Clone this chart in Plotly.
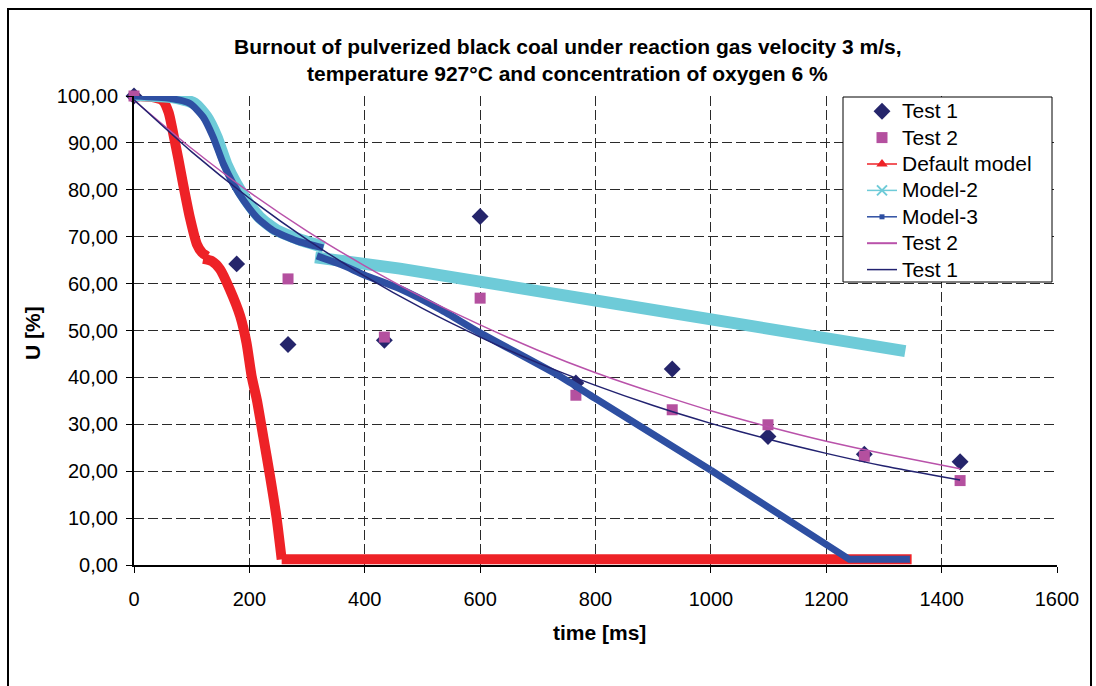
import plotly.graph_objects as go

# ---------------- data ----------------
t_test1 = [0, 178, 267, 434, 600, 766, 933, 1099, 1266, 1432]
u_test1 = [100.0, 64.2, 47.0, 47.9, 74.3, 38.8, 41.8, 27.4, 23.6, 22.0]

t_test2 = [0, 267, 434, 600, 766, 933, 1099, 1266, 1432]
u_test2 = [100.0, 61.0, 48.6, 56.9, 36.2, 33.1, 29.9, 23.2, 18.0]

t_trend = [0, 100, 200, 300, 400, 500, 600, 700, 800, 900, 1000, 1100, 1200, 1300, 1432]
u_trend1 = [99.2, 88.1, 78.2, 69.4, 61.6, 54.7, 48.6, 43.1, 38.3, 34.0, 30.2, 26.8, 23.8, 21.1, 18.1]
u_trend2 = [99.1, 88.8, 79.5, 71.2, 63.8, 57.1, 51.2, 45.8, 41.0, 36.8, 32.9, 29.5, 26.4, 23.7, 20.5]

# Default model (curved pieces + flat tail)
t_def_a = [0, 30, 50, 60, 68, 77, 85, 97, 109, 118, 127]
u_def_a = [100.0, 99.8, 99.0, 96.5, 92.0, 86.5, 81.3, 74.0, 68.4, 66.6, 65.8]
t_def_b = [120, 135, 149, 166, 184, 195, 204, 213, 224, 236, 247, 256]
u_def_b = [65.3, 64.8, 63.1, 58.8, 53.1, 47.4, 40.2, 35.2, 27.4, 18.8, 10.2, 1.2]
t_def_c = [256, 1348]
u_def_c = [1.2, 1.2]

# Model-2 (two pieces)
t_m2_a = [0, 68, 105, 126, 143, 160, 177, 195, 218, 247, 287, 329]
u_m2_a = [100.2, 99.7, 98.4, 95.5, 91.3, 85.5, 81.3, 77.7, 74.1, 71.4, 69.4, 67.8]
t_m2_b = [314, 461, 800, 1241, 1337]
u_m2_b = [65.6, 63.2, 56.4, 47.4, 45.6]

# Model-3 (curved pieces + straight tail)
t_m3_a = [0, 62, 97, 120, 137, 155, 172, 190, 213, 241, 282, 328]
u_m3_a = [100.0, 99.5, 98.4, 95.5, 91.3, 85.5, 81.3, 77.7, 74.1, 71.3, 69.1, 67.6]
t_m3_b = [317, 360, 400, 461, 531, 600, 739, 800, 1000]
u_m3_b = [65.9, 64.0, 61.8, 58.9, 54.5, 49.5, 40.2, 35.5, 20.2]
t_m3_c = [1000, 1240, 1345]
u_m3_c = [20.2, 1.2, 1.2]

x_ticks = [0, 200, 400, 600, 800, 1000, 1200, 1400, 1600]
y_ticks = [0, 10, 20, 30, 40, 50, 60, 70, 80, 90, 100]

legend_names = ["Test 1", "Test 2", "Default model", "Model-2", "Model-3", "Test 2", "Test 1"]

NAVY = "#25256B"
PINK = "#B4509F"
RED = "#EE2227"
CYAN = "#6ECBD8"
BLUE = "#2E4FA2"
PINK_LINE = "#B952AA"
NAVY_LINE = "#222270"
FONT = "Arial, Liberation Sans, sans-serif"

fig = go.Figure()


def add_line(t, u, color, width, spline=True):
    fig.add_trace(go.Scatter(
        x=t, y=u, mode="lines", showlegend=False, hoverinfo="skip",
        line=dict(color=color, width=width,
                  shape="spline" if spline else "linear", smoothing=0.6)))


# markers first (drawn underneath, like the original)
fig.add_trace(go.Scatter(x=t_test1, y=u_test1, mode="markers", showlegend=False,
                         marker=dict(symbol="diamond", size=13, color=NAVY), cliponaxis=False))
fig.add_trace(go.Scatter(x=t_test2, y=u_test2, mode="markers", showlegend=False,
                         marker=dict(symbol="square", size=11, color=PINK), cliponaxis=False))

add_line(t_def_a, u_def_a, RED, 10)
add_line(t_def_b, u_def_b, RED, 10)
add_line(t_def_c, u_def_c, RED, 10, spline=False)

add_line(t_m2_a, u_m2_a, CYAN, 12)
add_line(t_m2_b, u_m2_b, CYAN, 12, spline=False)

add_line(t_m3_a, u_m3_a, BLUE, 7)
add_line(t_m3_b, u_m3_b, BLUE, 7)
add_line(t_m3_c, u_m3_c, BLUE, 7, spline=False)

add_line(t_trend, u_trend2, PINK_LINE, 1.5)
add_line(t_trend, u_trend1, NAVY_LINE, 1.5)


def lname(s):
    return '<span style="font-size:21px">' + s + '</span>'


# legend entries
fig.add_trace(go.Scatter(x=[None], y=[None], mode="markers", name=lname(legend_names[0]),
                         marker=dict(symbol="diamond", size=13, color=NAVY)))
fig.add_trace(go.Scatter(x=[None], y=[None], mode="markers", name=lname(legend_names[1]),
                         marker=dict(symbol="square", size=11, color=PINK)))
fig.add_trace(go.Scatter(x=[None], y=[None], mode="lines+markers", name=lname(legend_names[2]),
                         line=dict(color=RED, width=1.5),
                         marker=dict(symbol="triangle-up", size=10, color=RED)))
fig.add_trace(go.Scatter(x=[None], y=[None], mode="lines+markers", name=lname(legend_names[3]),
                         line=dict(color=CYAN, width=1.5),
                         marker=dict(symbol="x-thin", size=10, color=CYAN,
                                     line=dict(color=CYAN, width=2))))
fig.add_trace(go.Scatter(x=[None], y=[None], mode="lines+markers", name=lname(legend_names[4]),
                         line=dict(color=BLUE, width=1.5),
                         marker=dict(symbol="square", size=5, color=BLUE)))
fig.add_trace(go.Scatter(x=[None], y=[None], mode="lines", name=lname(legend_names[5]),
                         line=dict(color=PINK_LINE, width=2)))
fig.add_trace(go.Scatter(x=[None], y=[None], mode="lines", name=lname(legend_names[6]),
                         line=dict(color=NAVY_LINE, width=1.5)))

L, R, T, B = 134, 1057, 96, 565
W, H = 1096, 686
pw, ph = R - L, B - T


def px(xp):
    return (xp - L) / pw


def py(yp):
    return (B - yp) / ph


fig.update_layout(
    width=W, height=H,
    margin=dict(l=L, r=W - R, t=T, b=H - B, pad=0),
    paper_bgcolor="white", plot_bgcolor="white",
    separators=",.",
    font=dict(family=FONT, size=20, color="black"),
    legend=dict(x=px(862), y=py(93), xanchor="left", yanchor="top",
                bgcolor="rgba(0,0,0,0)", borderwidth=0,
                font=dict(family=FONT, size=18, color="black"),
                itemwidth=30, tracegroupgap=0),
    showlegend=True,
)

fig.update_xaxes(range=[0, 1600], tickvals=x_ticks, ticktext=[str(v) for v in x_ticks],
                 showgrid=True, gridcolor="#2a2a2a", gridwidth=1, griddash="10px,4px",
                 showline=True, linecolor="black", linewidth=2,
                 ticks="outside", ticklen=6, tickcolor="black", tickwidth=1,
                 ticklabelstandoff=9, zeroline=False,
                 tickfont=dict(family=FONT, size=20, color="black"))
fig.update_yaxes(range=[0, 100], tickvals=y_ticks, tickformat=".2f",
                 showgrid=True, gridcolor="#2a2a2a", gridwidth=1, griddash="10px,4px",
                 showline=True, linecolor="black", linewidth=2,
                 ticks="outside", ticklen=6, tickcolor="black", tickwidth=1,
                 ticklabelstandoff=4, zeroline=False,
                 tickfont=dict(family=FONT, size=20, color="black"))

# title (two lines)
fig.add_annotation(text="<b>Burnout of pulverized black coal under reaction gas velocity 3 m/s,</b>",
                   xref="paper", yref="paper", x=px(568), y=py(47),
                   xanchor="center", yanchor="middle", showarrow=False,
                   font=dict(family=FONT, size=21, color="black"))
fig.add_annotation(text="<b>temperature 927°C and concentration of oxygen 6 %</b>",
                   xref="paper", yref="paper", x=px(567), y=py(73),
                   xanchor="center", yanchor="middle", showarrow=False,
                   font=dict(family=FONT, size=21, color="black"))

# axis titles
fig.add_annotation(text="<b>time [ms]</b>", xref="paper", yref="paper",
                   x=px(599), y=py(632), xanchor="center", yanchor="middle",
                   showarrow=False, font=dict(family=FONT, size=21, color="black"))
fig.add_annotation(text="<b>U [%]</b>", xref="paper", yref="paper",
                   x=px(32), y=py(333), xanchor="center", yanchor="middle", textangle=-90,
                   showarrow=False, font=dict(family=FONT, size=21, color="black"))

# legend box
fig.add_shape(type="rect", xref="paper", yref="paper",
              x0=px(843), x1=px(1052), y0=py(282), y1=py(97),
              line=dict(color="black", width=1), fillcolor="white", layer="above")

# outer chart border
fig.add_shape(type="rect", xref="paper", yref="paper",
              x0=px(8), x1=px(1091), y0=py(720), y1=py(9),
              line=dict(color="black", width=2), fillcolor="rgba(0,0,0,0)", layer="above")

fig.write_html("out.html", config={"displayModeBar": False},
               post_script="document.body.style.margin='0';")
